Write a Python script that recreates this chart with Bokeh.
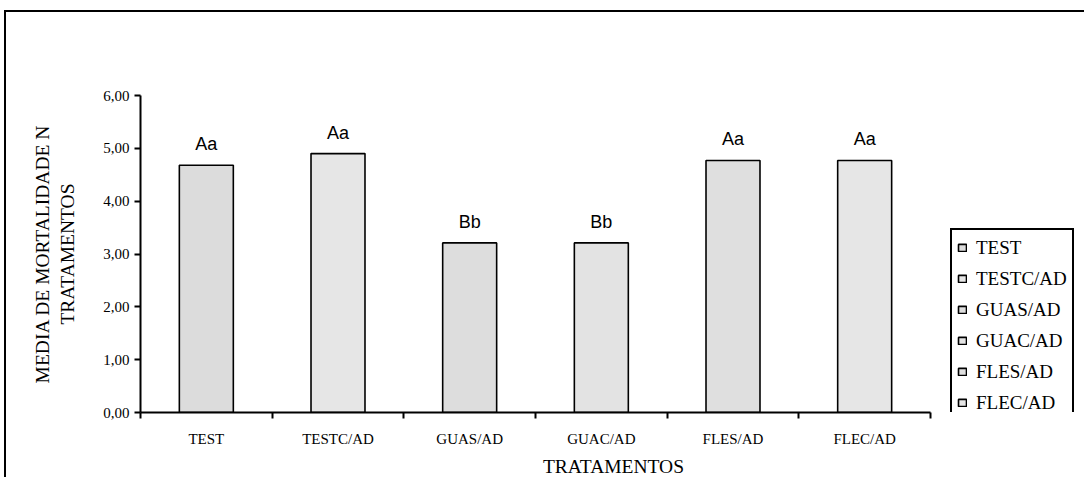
from bokeh.plotting import figure
from bokeh.models import ColumnDataSource, Range1d, FixedTicker, LabelSet, Legend, LegendItem
from bokeh.core.properties import value
from bokeh.embed import file_html
from bokeh.resources import INLINE

# ---- data ----
categories = ["TEST", "TESTC/AD", "GUAS/AD", "GUAC/AD", "FLES/AD", "FLEC/AD"]
values = [4.68, 4.90, 3.21, 3.21, 4.77, 4.77]
letters = ["Aa", "Aa", "Bb", "Bb", "Aa", "Aa"]
bar_colors = ["#dcdcdc", "#e6e6e6", "#dddddd", "#e3e3e3", "#dfdfdf", "#e6e6e6"]
y_ticks = [0, 1, 2, 3, 4, 5, 6]
y_tick_labels = ["0,00", "1,00", "2,00", "3,00", "4,00", "5,00", "6,00"]
x_title = "TRATAMENTOS"
y_title = "MEDIA DE MORTALIDADE N\nTRATAMENTOS"

n = len(categories)
xs = [i + 0.5 for i in range(n)]
src = ColumnDataSource(dict(x=xs, top=values, cat=categories, color=bar_colors, lab=letters))

# frame spans to the right edge (legend lives inside); the axis itself stops at n
frame_w, axis_w = 946, 790
p = figure(width=1080, height=467, output_backend="svg", toolbar_location=None,
           x_range=Range1d(0, n * frame_w / axis_w), y_range=Range1d(0, 6),
           min_border_left=134, min_border_right=0, min_border_top=83, min_border_bottom=65)
p.styles = {"position": "absolute", "left": "4px", "top": "10px",
            "border-left": "2px solid #000", "border-top": "2px solid #000"}
p.background_fill_color = "white"
p.border_fill_color = "white"
p.outline_line_color = None
p.xgrid.visible = False
p.ygrid.visible = False

r = p.vbar(x="x", top="top", width=0.41, bottom=0, source=src, fill_color="color",
           line_color="black", line_width=1.6)

labels = LabelSet(x="x", y="top", text="lab", source=src, y_offset=15,
                  text_align="center", text_baseline="alphabetic",
                  text_font=value("Liberation Sans"), text_font_size="18px", text_color="black")
p.add_layout(labels)

# y axis
ya = p.yaxis[0]
ya.ticker = FixedTicker(ticks=y_ticks, minor_ticks=[])
ya.major_label_overrides = {t: l for t, l in zip(y_ticks, y_tick_labels)}
ya.major_label_text_font = "Liberation Serif"
ya.major_label_text_font_size = "15px"
ya.major_label_text_color = "black"
ya.major_label_standoff = 5
ya.major_tick_in = 0
ya.major_tick_out = 6
ya.major_tick_line_width = 2
ya.axis_line_width = 2
ya.axis_label = y_title
ya.axis_label_text_font = "Liberation Serif"
ya.axis_label_text_font_size = "19.5px"
ya.axis_label_text_font_style = "normal"
ya.axis_label_text_color = "black"
ya.axis_label_standoff = 22

# x axis
xa = p.xaxis[0]
xa.bounds = (0, n)
xa.ticker = FixedTicker(ticks=xs, minor_ticks=list(range(n + 1)))
xa.major_label_overrides = {x: c for x, c in zip(xs, categories)}
xa.major_label_text_font = "Liberation Serif"
xa.major_label_text_font_size = "15px"
xa.major_label_text_color = "black"
xa.major_label_standoff = 12
xa.major_tick_in = 0
xa.major_tick_out = 0
xa.minor_tick_in = 0
xa.minor_tick_out = 6
xa.minor_tick_line_color = "black"
xa.minor_tick_line_width = 2
xa.axis_line_width = 2
xa.axis_label = x_title
xa.axis_label_text_font = "Liberation Serif"
xa.axis_label_text_font_size = "19.5px"
xa.axis_label_text_font_style = "normal"
xa.axis_label_text_color = "black"
xa.axis_label_standoff = 6

items = [LegendItem(label=c, renderers=[r], index=i) for i, c in enumerate(categories)]
legend = Legend(items=items, location=(810, -10), orientation="vertical")
legend.label_text_font = "Liberation Serif"
legend.label_text_font_size = "19px"
legend.label_text_color = "black"
legend.label_standoff = 9
legend.glyph_width = 10
legend.glyph_height = 9
legend.label_height = 25
legend.spacing = 6
legend.padding = 5
legend.margin = 0
legend.border_line_color = "black"
legend.border_line_alpha = 1
legend.border_line_width = 2
legend.background_fill_color = "white"
legend.background_fill_alpha = 1
p.add_layout(legend)

open("out.html", "w").write(file_html(p, INLINE))
